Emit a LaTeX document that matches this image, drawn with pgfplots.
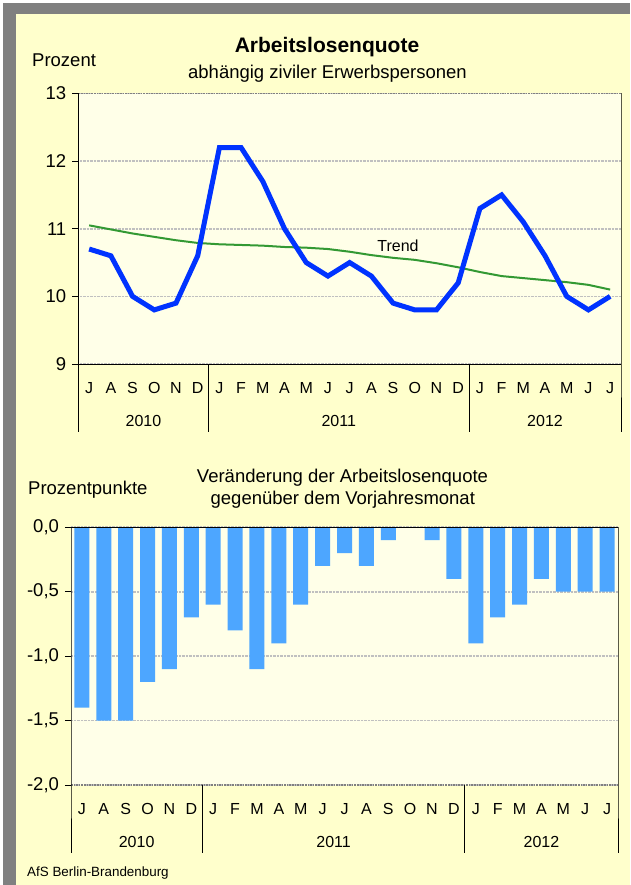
\documentclass[border=0pt]{standalone}
\usepackage{pgfplots}
\pgfplotsset{compat=1.18}
\usepackage{fontspec}
\setmainfont{Liberation Sans}
\definecolor{bgy}{HTML}{FFFFCC}
\definecolor{plotbg}{HTML}{FFFFE8}
\definecolor{framegray}{HTML}{808080}
\definecolor{lineblue}{HTML}{0033FF}
\definecolor{trendgreen}{HTML}{339933}
\definecolor{barblue}{HTML}{4DA6FF}
\definecolor{gridgray}{HTML}{C0C0C0}
\newcommand{\fs}[1]{\fontsize{#1}{#1}\selectfont}
\pgfplotsset{
  mystyle/.style={
    scale only axis,
    axis lines=left,
    axis line style={draw=none,-},
    ymajorgrids,
    grid style={gridgray, densely dotted, line width=1.6pt},
    tick align=outside,
    major tick length=6pt,
    ytick style={black, line width=0.8pt},
    xtick style={draw=none},
    clip=false,
    axis background/.style={fill=plotbg},
    yticklabel style={font=\fs{18.5}, xshift=-2.5pt},
    xticklabel style={font=\fs{16}, anchor=base, inner sep=0pt, yshift=-23.5pt},
    /pgf/number format/assume math mode=true,
    xmin=0, xmax=25,
    xtick={0.5,1.5,...,24.5},
    xticklabels={J,A,S,O,N,D,J,F,M,A,M,J,J,A,S,O,N,D,J,F,M,A,M,J,J},
  }
}
\begin{document}
\begin{tikzpicture}[x=1pt,y=1pt]
\fill[white] (0,0) rectangle (630,885);
\fill[bgy] (3.3,0) rectangle (630,881.7);
\fill[framegray] (3.3,0) rectangle (15.7,881.7);
\fill[framegray] (3.3,871) rectangle (630,881.7);

% Titles
\node[anchor=base, font=\bfseries\fs{21}] at (327,832) {Arbeitslosenquote};
\node[anchor=base, font=\fs{18.5}] at (327.5,806.5) {abhängig ziviler Erwerbspersonen};
\node[anchor=base west, font=\fs{18.5}, inner sep=0pt] at (32,818.5) {Prozent};

\begin{axis}[mystyle,
  at={(78.3pt,521pt)}, anchor=south west,
  width=542.7pt, height=270.5pt,
  ymin=9, ymax=13, ytick={9,10,11,12,13},
]
\addplot[trendgreen, line width=2pt] coordinates {
(0.5,11.05) (1.5,10.99) (2.5,10.93) (3.5,10.88) (4.5,10.83) (5.5,10.79)
(6.5,10.77) (7.5,10.76) (8.5,10.75) (9.5,10.73) (10.5,10.72) (11.5,10.70)
(12.5,10.66) (13.5,10.61) (14.5,10.57) (15.5,10.54) (16.5,10.49) (17.5,10.43)
(18.5,10.36) (19.5,10.30) (20.5,10.27) (21.5,10.24) (22.5,10.21) (23.5,10.17) (24.5,10.10)
};
\addplot[lineblue, line width=5pt] coordinates {
(0.5,10.7) (1.5,10.6) (2.5,10.0) (3.5,9.8) (4.5,9.9) (5.5,10.6)
(6.5,12.2) (7.5,12.2) (8.5,11.7) (9.5,11.0) (10.5,10.5) (11.5,10.3)
(12.5,10.5) (13.5,10.3) (14.5,9.9) (15.5,9.8) (16.5,9.8) (17.5,10.2)
(18.5,11.3) (19.5,11.5) (20.5,11.1) (21.5,10.6) (22.5,10.0) (23.5,9.8) (24.5,10.0)
};
\node[anchor=base west, font=\fs{16}, inner sep=0pt] at (axis cs:13.77,10.67) {Trend};
\draw[framegray, densely dotted, line width=1.6pt] (axis cs:0,13) -- (axis cs:25,13);
\draw[black, line width=0.8pt] (axis cs:0,9) -- (axis cs:25,9);
\draw[black, line width=0.8pt] (axis cs:0,13) -- (axis cs:0,9) -- ++(0pt,-68pt);
\draw[black, line width=0.8pt] (axis cs:25,13) -- (axis cs:25,9) -- ++(0pt,-68pt);
\draw[black, line width=0.8pt] (axis cs:6,9) -- ++(0pt,-68pt);
\draw[black, line width=0.8pt] (axis cs:18,9) -- ++(0pt,-68pt);
\node[anchor=base, font=\fs{16}, inner sep=0pt] at ([yshift=-63pt]axis cs:3,9) {2010};
\node[anchor=base, font=\fs{16}, inner sep=0pt] at ([yshift=-63pt]axis cs:12,9) {2011};
\node[anchor=base, font=\fs{16}, inner sep=0pt] at ([yshift=-63pt]axis cs:21.5,9) {2012};
\end{axis}

% Bottom titles
\node[anchor=base, font=\fs{18.5}] at (342.5,402.3) {Veränderung der Arbeitslosenquote};
\node[anchor=base, font=\fs{18.5}] at (342.8,380) {gegenüber dem Vorjahresmonat};
\node[anchor=base west, font=\fs{18.5}, inner sep=0pt] at (28,390.5) {Prozentpunkte};

\begin{axis}[mystyle,
  at={(71pt,100pt)}, anchor=south west,
  width=547pt, height=257.7pt,
  ymin=-2, ymax=0, ytick={-2,-1.5,-1,-0.5,0},
  yticklabel style={/pgf/number format/.cd, use comma, fixed, fixed zerofill, precision=1},
]
\addplot[ybar, bar width=15pt, fill=barblue, draw=none] coordinates {
(0.5,-1.4) (1.5,-1.5) (2.5,-1.5) (3.5,-1.2) (4.5,-1.1) (5.5,-0.7)
(6.5,-0.6) (7.5,-0.8) (8.5,-1.1) (9.5,-0.9) (10.5,-0.6) (11.5,-0.3)
(12.5,-0.2) (13.5,-0.3) (14.5,-0.1) (15.5,0) (16.5,-0.1) (17.5,-0.4)
(18.5,-0.9) (19.5,-0.7) (20.5,-0.6) (21.5,-0.4) (22.5,-0.5) (23.5,-0.5) (24.5,-0.5)
};
\draw[framegray, densely dotted, line width=1.6pt] (axis cs:0,-2) -- (axis cs:25,-2);
\draw[black, line width=0.8pt] (axis cs:0,0) -- (axis cs:25,0);
\draw[black, line width=0.8pt] (axis cs:0,0) -- (axis cs:0,-2) -- ++(0pt,-68pt);
\draw[black, line width=0.8pt] (axis cs:25,0) -- (axis cs:25,-2) -- ++(0pt,-68pt);
\draw[black, line width=0.8pt] (axis cs:6,-2) -- ++(0pt,-68pt);
\draw[black, line width=0.8pt] (axis cs:18,-2) -- ++(0pt,-68pt);
\node[anchor=base, font=\fs{16}, inner sep=0pt] at ([yshift=-63pt]axis cs:3,-2) {2010};
\node[anchor=base, font=\fs{16}, inner sep=0pt] at ([yshift=-63pt]axis cs:12,-2) {2011};
\node[anchor=base, font=\fs{16}, inner sep=0pt] at ([yshift=-63pt]axis cs:21.5,-2) {2012};
\end{axis}

\node[anchor=base west, font=\fs{13.4}, inner sep=0pt] at (27,8.7) {AfS Berlin-Brandenburg};
\end{tikzpicture}
\end{document}
